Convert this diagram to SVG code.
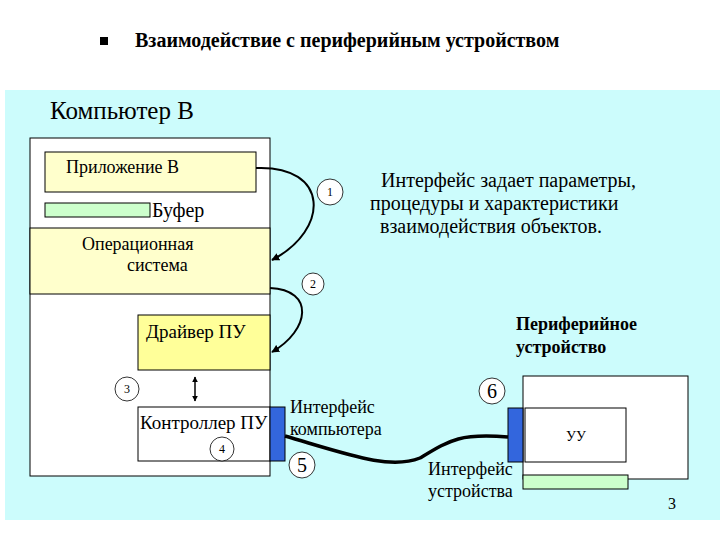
<svg xmlns="http://www.w3.org/2000/svg" width="720" height="540" viewBox="0 0 720 540" font-family="'Liberation Serif','DejaVu Serif',serif">
<style>
text{font-family:'Liberation Serif','DejaVu Serif',serif;fill:#000}
.b{stroke:#000;stroke-width:1}
.c{fill:#fff;stroke:#000;stroke-width:0.8}
.n{font-size:12px;text-anchor:middle}
</style>
<defs><marker id="a" viewBox="0 0 10 10" refX="9" refY="5" markerWidth="4" markerHeight="4" orient="auto-start-reverse"><path d="M0,0L10,5L0,10z" fill="#000"/></marker></defs>
<rect width="720" height="540" fill="#fff"/>
<rect x="100" y="37" width="8" height="8" fill="#000"/>
<text x="135" y="47" font-size="20" font-weight="bold">Взаимодействие с периферийным устройством</text>
<rect x="5" y="90" width="715" height="430" fill="#ccfcfc"/>
<text x="50" y="119" font-size="25">Компьютер В</text>
<g id="computer"><rect x="30" y="138" width="240" height="338" fill="#fff" class="b"/></g>
<g id="os"><rect x="30" y="228" width="240" height="66" fill="#ffffcc" class="b"/><text x="82" y="250" font-size="18">Операционная</text><text x="127" y="271" font-size="18">система</text></g>
<g id="app"><rect x="45" y="152" width="211" height="40" fill="#ffffcc" class="b"/><text x="66" y="173" font-size="18">Приложение В</text></g>
<g id="buffer"><rect x="45" y="203" width="105" height="14" fill="#ccffcc" class="b"/><text x="152" y="217" font-size="20">Буфер</text></g>
<g id="driver"><rect x="138" y="315" width="132" height="55" fill="#ffff99" class="b"/><text x="146" y="338" font-size="19">Драйвер ПУ</text></g>
<g id="controller"><rect x="138" y="407" width="132" height="54" fill="#fff" class="b"/><text x="140" y="429" font-size="19">Контроллер ПУ</text><rect x="270" y="407" width="15" height="54" fill="#3366dd" class="b"/></g>
<g id="device"><rect x="523" y="376" width="165" height="103" fill="#fff" class="b"/><rect x="525" y="408" width="101" height="54" fill="#fff" class="b"/><text x="576" y="441" font-size="14" text-anchor="middle">УУ</text><rect x="508" y="408" width="15" height="54" fill="#3366dd" class="b"/><rect x="523" y="475" width="105" height="14" fill="#ccffcc" class="b"/></g>
<g id="connectors" fill="none" stroke="#000">
<path d="M256,168 C330,165 330,230 272,260" stroke-width="2" marker-end="url(#a)"/>
<path d="M270,288 C315,290 310,330 272,352" stroke-width="2" marker-end="url(#a)"/>
<path d="M195,377 L195,401" stroke-width="1.5" marker-start="url(#a)" marker-end="url(#a)"/>
<path d="M285,436 C350,455 390,470 420,458 C450,440 460,433 508,437" stroke-width="3.5"/>
</g>
<g id="labels">
<circle cx="330" cy="192" r="13" class="c"/><text x="330" y="196" class="n">1</text>
<circle cx="313" cy="284" r="11" class="c"/><text x="313" y="288" class="n">2</text>
<circle cx="127" cy="389" r="12" class="c"/><text x="127" y="393" class="n">3</text>
<circle cx="222" cy="449" r="12" class="c"/><text x="222" y="453" class="n">4</text>
<circle cx="302" cy="465" r="13" class="c"/><text x="302" y="472" font-size="20" text-anchor="middle">5</text>
<circle cx="492" cy="391" r="13" class="c"/><text x="492" y="398" font-size="20" text-anchor="middle">6</text>
<text x="381" y="187" font-size="20">Интерфейс задает параметры,</text>
<text x="370" y="210" font-size="20">процедуры и характеристики</text>
<text x="380" y="233" font-size="20">взаимодействия объектов.</text>
<text x="516" y="330" font-size="18" font-weight="bold">Периферийное</text>
<text x="516" y="353" font-size="18" font-weight="bold">устройство</text>
<text x="290" y="413" font-size="18">Интерфейс</text>
<text x="290" y="435" font-size="18">компьютера</text>
<text x="428" y="475" font-size="18">Интерфейс</text>
<text x="428" y="497" font-size="18">устройства</text>
<text x="668" y="509" font-size="16">3</text>
</g>
</svg>
